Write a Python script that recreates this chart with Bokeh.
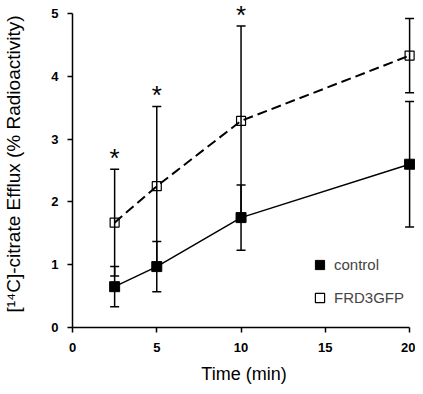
from bokeh.plotting import figure
from bokeh.models import Range1d, FixedTicker, Legend, LegendItem
from bokeh.core.properties import value
from bokeh.embed import file_html
from bokeh.resources import INLINE

# ---- data ----
time_min = [2.5, 5, 10, 20]
control_mean = [0.65, 0.97, 1.75, 2.60]
control_err = [0.32, 0.40, 0.52, 1.00]
frd_mean = [1.67, 2.25, 3.29, 4.33]
frd_err = [0.85, 1.27, 1.51, 0.59]
significant = [True, True, True, False]
x_ticks = [0, 5, 10, 15, 20]
y_ticks = [0, 1, 2, 3, 4, 5]

FONT = "Liberation Sans"

p = figure(width=415, height=386,
           x_range=Range1d(0, 20.35), y_range=Range1d(0, 5.207),
           output_backend="svg", toolbar_location=None,
           min_border_left=67, min_border_right=0,
           min_border_top=0, min_border_bottom=59)
p.outline_line_color = None
p.xgrid.visible = False
p.ygrid.visible = False

# error bars
def errbars(mean, err):
    lo = [m - e for m, e in zip(mean, err)]
    hi = [m + e for m, e in zip(mean, err)]
    p.segment(x0=time_min, y0=lo, x1=time_min, y1=hi, line_color="black", line_width=1.5)
    p.scatter(x=time_min + time_min, y=lo + hi, marker="dash", size=9,
              line_color="black", line_width=1.5)
    return hi

errbars(control_mean, control_err)
frd_hi = errbars(frd_mean, frd_err)

# lines
p.line(time_min, control_mean, line_color="black", line_width=1.5)
p.line(time_min, frd_mean, line_color="black", line_width=2, line_dash="10 5")

r_ctrl = p.scatter(time_min, control_mean, marker="square", size=10,
                   fill_color="black", line_color="black")
r_frd = p.scatter(time_min, frd_mean, marker="square", size=9,
                  fill_color=None, line_color="black", line_width=1.2)

# asterisks (significance marks above the FRD3GFP error bars)
star_x = [t for t, s in zip(time_min, significant) if s]
star_y = [h for h, s in zip(frd_hi, significant) if s]
p.text(x=star_x, y=star_y, text=["*"] * len(star_x),
       text_font=value(FONT), text_font_size="26px", text_align="center",
       text_baseline="alphabetic", y_offset=-11, text_color="black")

# axes
for ax in (p.xaxis[0], p.yaxis[0]):
    ax.axis_line_width = 1.5
    ax.major_tick_line_width = 1.5
    ax.major_tick_out = 5
    ax.major_tick_in = 0
    ax.minor_tick_line_color = None
    ax.major_label_text_font = FONT
    ax.major_label_text_font_style = "bold"
    ax.major_label_text_font_size = "13px"
    ax.major_label_text_color = "black"
    ax.axis_label_text_font = FONT
    ax.axis_label_text_font_style = "normal"
    ax.axis_label_text_color = "black"

p.xaxis.axis_label_text_font_size = "18px"
p.yaxis.axis_label_text_font_size = "19px"
p.xaxis.ticker = FixedTicker(ticks=x_ticks)
p.yaxis.ticker = FixedTicker(ticks=y_ticks)
p.xaxis.bounds = (0, 20)
p.yaxis.bounds = (0, 5)
p.xaxis.axis_label = "Time (min)"
p.yaxis.axis_label = "[\u00b9\u2074C]-citrate Efflux (% Radioactivity)"
p.xaxis.major_label_standoff = 10
p.yaxis.major_label_standoff = 9
p.xaxis.axis_label_standoff = 9
p.yaxis.axis_label_standoff = 24

legend = Legend(items=[LegendItem(label="control", renderers=[r_ctrl]),
                       LegendItem(label="FRD3GFP", renderers=[r_frd])],
                location=(236, 18), glyph_width=23, glyph_height=23,
                label_standoff=3, spacing=10, padding=0, margin=0,
                label_text_font=FONT, label_text_font_size="15px",
                label_height=23,
                background_fill_alpha=0, border_line_alpha=0)
p.add_layout(legend)

open("out.html", "w").write(file_html(p, INLINE))
